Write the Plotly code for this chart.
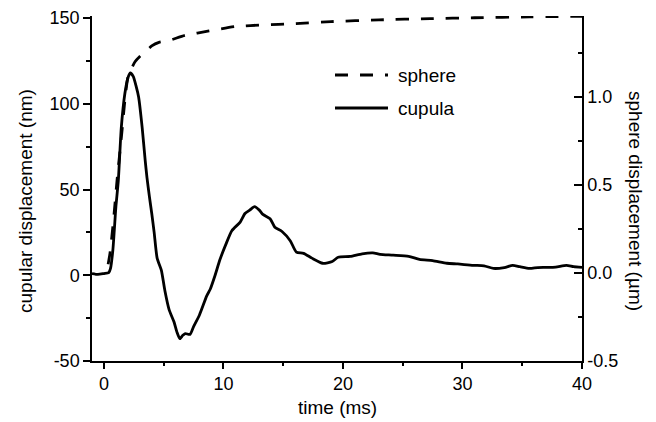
import plotly.graph_objects as go

# cupula displacement (nm) vs time (ms)
cupula_t = [-1.0, -0.5, 0.0, 0.4, 0.55, 0.75, 1.0, 1.2, 1.45, 1.75, 2.0, 2.2, 2.45, 2.7, 2.9,
            3.2, 3.45, 3.6, 3.8, 4.0, 4.2, 4.45, 4.8, 5.1, 5.45, 5.85, 6.1, 6.35, 6.6, 6.8,
            7.2, 7.5, 8.0, 8.6, 8.9, 9.3, 9.7, 10.2, 10.7, 11.4, 11.8, 12.2, 12.6, 13.0, 13.3,
            13.9, 14.3, 14.9, 15.6, 16.1, 16.7, 17.4, 18.3, 19.1, 19.6, 20.6, 21.6, 22.5, 23.1,
            24.2, 25.5, 26.4, 27.5, 28.7, 29.6, 30.9, 31.8, 32.6, 33.5, 34.2, 34.8, 35.6, 36.3,
            37.0, 37.8, 38.7, 39.3, 40.0]
cupula_nm = [1, 0.5, 1, 1.5, 4, 15, 40, 55, 86, 106, 115, 118, 116, 110, 104,
             86, 67, 57, 46, 36, 25, 10, 3, -9, -20, -27, -33, -37, -35, -34,
             -34.5, -30, -23, -12, -8, 0, 9, 18, 26, 31, 36, 38, 40, 38, 35.5,
             33, 28, 25.5, 20, 13.5, 12.8, 10, 7, 8, 10.5, 11, 12.5, 13, 12.2,
             11.7, 11, 9.3, 8.5, 7, 6.6, 5.8, 5.5, 4, 4.5, 5.8, 5, 4, 4.5,
             4.6, 4.8, 5.8, 5, 4.6]

# sphere displacement (um) vs time (ms)
sphere_t = [0.35, 0.5, 0.8, 1.1, 1.5, 1.75, 2.0, 2.3, 2.6, 3.0, 3.35, 4.0, 4.6, 5.4, 6.8,
            8.8, 11.0, 13.5, 15.7, 19.0, 23.0, 27.3, 31.0, 35.6, 40.0]
sphere_um = [0.05, 0.11, 0.30, 0.53, 0.80, 0.98, 1.11, 1.16, 1.20, 1.23, 1.25, 1.29, 1.31, 1.32, 1.35,
             1.375, 1.40, 1.41, 1.415, 1.428, 1.438, 1.445, 1.45, 1.455, 1.458]

x_ticks = [0, 10, 20, 30, 40]
y_ticks = [-50, 0, 50, 100, 150]
y_ticktext = ["-50", "0", "50", "100", "150"]
y2_ticks = [-0.5, 0.0, 0.5, 1.0]
y2_ticktext = ["-0.5", "0.0", "0.5", "1.0"]

FONT = "Liberation Sans, Arial, sans-serif"
DASH = "13px,12px"

fig = go.Figure()
fig.add_trace(go.Scatter(x=sphere_t, y=sphere_um, yaxis="y2", mode="lines", name="sphere",
                         line=dict(color="black", width=2.8, dash=DASH, shape="spline", smoothing=0.6),
                         showlegend=False))
fig.add_trace(go.Scatter(x=cupula_t, y=cupula_nm, mode="lines", name="cupula",
                         line=dict(color="black", width=2.8, shape="spline", smoothing=0.6),
                         showlegend=False))

axis_common = dict(showline=True, linecolor="black", linewidth=1.5, showgrid=False, zeroline=False,
                   automargin=False, tickcolor="black", tickwidth=1.5,
                   tickfont=dict(family=FONT, size=18, color="black"))

# the page body adds an 8px offset, so the figure is 8px smaller than the window
fig.update_layout(
    template="none",
    width=648, height=414,
    margin=dict(l=84, r=74, t=8, b=61, autoexpand=False),
    paper_bgcolor="white", plot_bgcolor="white",
    font=dict(family=FONT, color="black"),
    showlegend=False,
    xaxis=dict(range=[-1, 40], tickvals=x_ticks, ticks="outside", ticklen=6,
               minor=dict(dtick=5, tick0=0, ticks="outside", ticklen=3, tickwidth=1.5, tickcolor="black"),
               **axis_common),
    yaxis=dict(range=[-50, 151.2], tickvals=y_ticks, ticktext=y_ticktext, ticks="outside", ticklen=7,
               minor=dict(dtick=25, tick0=0, ticks="outside", ticklen=4, tickwidth=1.5, tickcolor="black"),
               **axis_common),
    yaxis2=dict(range=[-0.5, 1.46], overlaying="y", side="right", tickvals=y2_ticks, ticktext=y2_ticktext,
                ticks="inside", ticklen=8,
                minor=dict(dtick=0.25, tick0=0, ticks="inside", ticklen=4, tickwidth=1.5, tickcolor="black"),
                **axis_common),
)


# helpers: screenshot pixel -> paper coordinate (plot area spans x 92..582, y 16..361)
def px_x(p):
    return (p - 92) / 490


def px_y(p):
    return (361 - p) / 345


TITLE_FONT = dict(family=FONT, size=19, color="black")
# axis titles
fig.add_annotation(text="time (ms)", xref="paper", yref="paper", x=px_x(337), y=px_y(407),
                   showarrow=False, font=TITLE_FONT, xanchor="center", yanchor="middle")
fig.add_annotation(text="cupular displacement (nm)", xref="paper", yref="paper",
                   x=px_x(26), y=px_y(201), textangle=-90, showarrow=False,
                   font=TITLE_FONT, xanchor="center", yanchor="middle")
fig.add_annotation(text="sphere displacement (µm)", xref="paper", yref="paper",
                   x=px_x(635), y=px_y(201), textangle=90, showarrow=False,
                   font=TITLE_FONT, xanchor="center", yanchor="middle")

# legend (drawn manually)
legend_items = [("sphere", 75, DASH), ("cupula", 108, "solid")]
for name, ly, dash in legend_items:
    fig.add_shape(type="line", xref="paper", yref="paper", x0=px_x(335), x1=px_x(388),
                  y0=px_y(ly), y1=px_y(ly), line=dict(color="black", width=2.8, dash=dash))
    fig.add_annotation(text=name, xref="paper", yref="paper", x=px_x(396), y=px_y(ly),
                       xanchor="left", yanchor="middle", showarrow=False, font=TITLE_FONT)

fig.write_html("out.html")
